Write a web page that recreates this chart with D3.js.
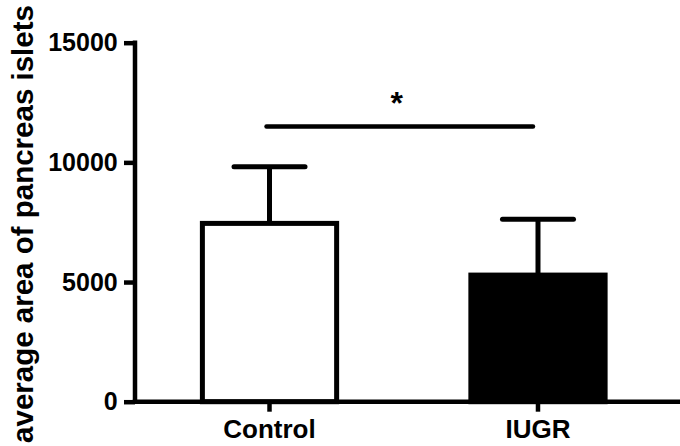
<!DOCTYPE html>
<html>
<head>
<meta charset="utf-8">
<script src="https://cdn.jsdelivr.net/npm/d3@7"></script>
<style>
  html, body { margin: 0; padding: 0; background: #ffffff; }
  svg { display: block; }
  text { font-family: "Liberation Sans", Arial, sans-serif; font-weight: bold; fill: #000; }
</style>
</head>
<body>
<svg id="chart" width="680" height="446"></svg>
<script>
const categories = ["Control", "IUGR"];
const means = [7450, 5290];
const errors = [2370, 2330];
const fills = ["#ffffff", "#000000"];
const yTicks = [0, 5000, 10000, 15000];
const yTitle = "average area of pancreas islets";
const sigLevel = 11500;
const sigLabel = "*";

const svg = d3.select("#chart");
const x0 = 135, yBottom = 401.7, yTop = 42.7;

const y = d3.scaleLinear().domain([0, 15000]).range([yBottom, yTop]);
const x = d3.scaleBand().domain(categories).range([x0, 672.5])
  .paddingInner(0.5).paddingOuter(0.251);

// Bars
const bw = x.bandwidth();
svg.selectAll("rect.bar").data(categories).enter().append("rect")
  .attr("class", "bar")
  .attr("x", d => x(d))
  .attr("y", (d, i) => y(means[i]))
  .attr("width", bw)
  .attr("height", (d, i) => y(0) - y(means[i]))
  .attr("fill", (d, i) => fills[i])
  .attr("stroke", "#000")
  .attr("stroke-width", 5);

// Error bars
const capHalf = 35.5;
categories.forEach((c, i) => {
  const cx = x(c) + bw / 2;
  svg.append("line")
    .attr("x1", cx).attr("x2", cx)
    .attr("y1", y(means[i])).attr("y2", y(means[i] + errors[i]))
    .attr("stroke", "#000").attr("stroke-width", 5);
  svg.append("line")
    .attr("x1", cx - capHalf).attr("x2", cx + capHalf)
    .attr("y1", y(means[i] + errors[i])).attr("y2", y(means[i] + errors[i]))
    .attr("stroke", "#000").attr("stroke-width", 5).attr("stroke-linecap", "round");
});

// Significance line
const sx1 = x(categories[0]) + bw / 2 - 3;
const sx2 = x(categories[1]) + bw / 2 - 5;
svg.append("line")
  .attr("x1", sx1).attr("x2", sx2)
  .attr("y1", y(sigLevel)).attr("y2", y(sigLevel))
  .attr("stroke", "#000").attr("stroke-width", 4.5).attr("stroke-linecap", "round");
svg.append("text")
  .attr("x", (sx1 + sx2) / 2 - 3)
  .attr("y", 114)
  .attr("text-anchor", "middle")
  .style("font-size", "32px")
  .text(sigLabel);

// Y axis
const yAxis = d3.axisLeft(y).tickValues(yTicks).tickSize(11).tickPadding(6.3)
  .tickFormat(d3.format("d"));
const gy = svg.append("g").attr("transform", `translate(${x0},0)`).call(yAxis);
gy.select(".domain").remove();
gy.selectAll(".tick line").attr("stroke", "#000").attr("stroke-width", 4.5);
gy.selectAll(".tick text").style("font-size", "25px").attr("font-family", null);
svg.append("line")
  .attr("x1", x0).attr("x2", x0)
  .attr("y1", y(15000) - 2.2).attr("y2", y(0))
  .attr("stroke", "#000").attr("stroke-width", 4.5);

// X axis
const xAxis = d3.axisBottom(x).tickSize(10).tickPadding(8);
const gx = svg.append("g").attr("transform", `translate(0,${yBottom})`).call(xAxis);
gx.select(".domain").remove();
gx.selectAll(".tick line").attr("stroke", "#000").attr("stroke-width", 4.5);
gx.selectAll(".tick text").style("font-size", "26px").attr("font-family", null);
svg.append("line")
  .attr("x1", x0 - 2.2).attr("x2", 680)
  .attr("y1", yBottom).attr("y2", yBottom)
  .attr("stroke", "#000").attr("stroke-width", 4.5);

// Y title
svg.append("text")
  .attr("transform", `translate(33,${224}) rotate(-90)`)
  .attr("text-anchor", "middle")
  .style("font-size", "29.5px")
  .text(yTitle);
</script>
</body>
</html>
